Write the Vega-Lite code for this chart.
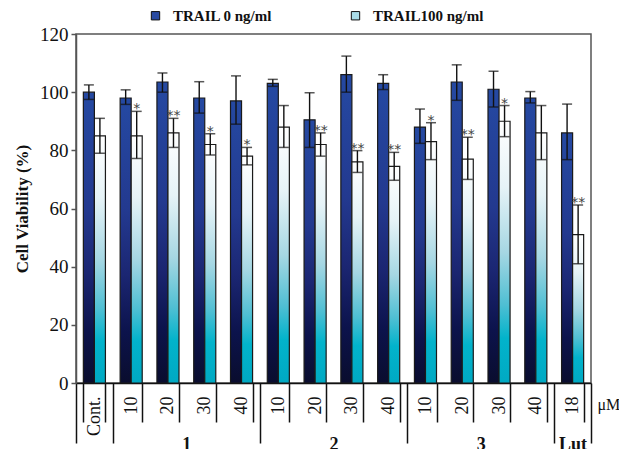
{
  "$schema": "https://vega.github.io/schema/vega-lite/v6.json",
  "width": 515,
  "height": 349,
  "autosize": "none",
  "padding": {"left": 76, "top": 34, "right": 28, "bottom": 66},
  "background": "white",
  "config": {
    "view": {"stroke": "#555", "strokeWidth": 1.5},
    "font": "Liberation Serif",
    "axis": {"labelFont": "Liberation Serif", "titleFont": "Liberation Serif", "labelColor": "#111", "titleColor": "#111"},
    "legend": {"labelFont": "Liberation Serif"}
  },
  "datasets": {
    "viability": [
      {"cat": "Cont.", "series": "TRAIL 0 ng/ml", "mean": 100, "lo": 97.5, "hi": 102.5, "sig": ""},
      {"cat": "Cont.", "series": "TRAIL100 ng/ml", "mean": 85, "lo": 79, "hi": 91, "sig": ""},
      {"cat": "1:10", "series": "TRAIL 0 ng/ml", "mean": 98, "lo": 95.8, "hi": 100.8, "sig": ""},
      {"cat": "1:10", "series": "TRAIL100 ng/ml", "mean": 85, "lo": 77.2, "hi": 93.4, "sig": "*"},
      {"cat": "1:20", "series": "TRAIL 0 ng/ml", "mean": 103.5, "lo": 100, "hi": 106.6, "sig": ""},
      {"cat": "1:20", "series": "TRAIL100 ng/ml", "mean": 86, "lo": 81, "hi": 91, "sig": "**"},
      {"cat": "1:30", "series": "TRAIL 0 ng/ml", "mean": 98, "lo": 92.8, "hi": 103.6, "sig": ""},
      {"cat": "1:30", "series": "TRAIL100 ng/ml", "mean": 82, "lo": 78.4, "hi": 85.7, "sig": "*"},
      {"cat": "1:40", "series": "TRAIL 0 ng/ml", "mean": 97, "lo": 89, "hi": 105.6, "sig": ""},
      {"cat": "1:40", "series": "TRAIL100 ng/ml", "mean": 78, "lo": 75, "hi": 81, "sig": "*"},
      {"cat": "2:10", "series": "TRAIL 0 ng/ml", "mean": 103, "lo": 102, "hi": 104.4, "sig": ""},
      {"cat": "2:10", "series": "TRAIL100 ng/ml", "mean": 88, "lo": 81, "hi": 95.4, "sig": ""},
      {"cat": "2:20", "series": "TRAIL 0 ng/ml", "mean": 90.5, "lo": 81, "hi": 99.8, "sig": ""},
      {"cat": "2:20", "series": "TRAIL100 ng/ml", "mean": 82, "lo": 78, "hi": 86, "sig": "**"},
      {"cat": "2:30", "series": "TRAIL 0 ng/ml", "mean": 106, "lo": 100, "hi": 112.4, "sig": ""},
      {"cat": "2:30", "series": "TRAIL100 ng/ml", "mean": 76, "lo": 72.4, "hi": 79.9, "sig": "**"},
      {"cat": "2:40", "series": "TRAIL 0 ng/ml", "mean": 103, "lo": 100.9, "hi": 106, "sig": ""},
      {"cat": "2:40", "series": "TRAIL100 ng/ml", "mean": 74.5, "lo": 69.7, "hi": 79.3, "sig": "**"},
      {"cat": "3:10", "series": "TRAIL 0 ng/ml", "mean": 88, "lo": 82.4, "hi": 94.2, "sig": ""},
      {"cat": "3:10", "series": "TRAIL100 ng/ml", "mean": 83, "lo": 76.8, "hi": 89.5, "sig": "*"},
      {"cat": "3:20", "series": "TRAIL 0 ng/ml", "mean": 103.5, "lo": 97.2, "hi": 109.4, "sig": ""},
      {"cat": "3:20", "series": "TRAIL100 ng/ml", "mean": 77, "lo": 70, "hi": 84.5, "sig": "**"},
      {"cat": "3:30", "series": "TRAIL 0 ng/ml", "mean": 101, "lo": 94.9, "hi": 107.2, "sig": ""},
      {"cat": "3:30", "series": "TRAIL100 ng/ml", "mean": 90, "lo": 84.7, "hi": 95.4, "sig": "*"},
      {"cat": "3:40", "series": "TRAIL 0 ng/ml", "mean": 98, "lo": 96.3, "hi": 100.2, "sig": ""},
      {"cat": "3:40", "series": "TRAIL100 ng/ml", "mean": 86, "lo": 76.8, "hi": 95.4, "sig": ""},
      {"cat": "Lut:18", "series": "TRAIL 0 ng/ml", "mean": 86, "lo": 76.8, "hi": 95.9, "sig": ""},
      {"cat": "Lut:18", "series": "TRAIL100 ng/ml", "mean": 51, "lo": 41, "hi": 61.2, "sig": "**"}
    ],
    "groups": [
      {"grp": "Cont.", "from": 0, "to": 1},
      {"grp": "1", "from": 1, "to": 5},
      {"grp": "2", "from": 5, "to": 9},
      {"grp": "3", "from": 9, "to": 13},
      {"grp": "Lut", "from": 13, "to": 14}
    ]
  },
  "layer": [
    {
      "data": {"name": "viability"},
      "encoding": {
        "x": {
          "field": "cat", "type": "nominal", "sort": null,
          "scale": {"paddingInner": 0.4, "paddingOuter": 0.2},
          "axis": {
            "orient": "bottom",
            "labelExpr": "isString(datum.value) ? peek(split(datum.value, ':')) : ''",
            "labelAngle": -90,
            "labelFontSize": 18,
            "labelPadding": -26,
            "tickBand": "extent",
            "tickSize": 39,
            "tickWidth": 1.5,
            "tickColor": "#111",
            "domainColor": "#111",
            "domainWidth": 1.5,
            "grid": false,
            "title": null
          }
        },
        "xOffset": {"field": "series", "type": "nominal", "scale": {"domain": ["TRAIL 0 ng/ml", "TRAIL100 ng/ml"]}}
      },
      "layer": [
        {
          "transform": [{"filter": "datum.series == 'TRAIL 0 ng/ml'"}],
          "mark": {
            "type": "bar", "stroke": "#1a1a1a", "strokeWidth": 1.2,
            "fill": {"gradient": "linear", "x1": 0, "y1": 0, "x2": 0, "y2": 1,
              "stops": [
                {"offset": 0, "color": "#2549a2"},
                {"offset": 0.4, "color": "#23398f"},
                {"offset": 0.62, "color": "#1b2672"},
                {"offset": 0.82, "color": "#0c134c"},
                {"offset": 1, "color": "#0a0d2e"}
              ]}
          },
          "encoding": {
            "y": {"field": "mean", "type": "quantitative",
              "scale": {"domain": [0, 120], "nice": false},
              "axis": {
                "values": [0, 20, 40, 60, 80, 100, 120],
                "labelFontSize": 19, "labelPadding": 3,
                "tickSize": 5, "tickColor": "#555", "tickWidth": 1.5,
                "domainColor": "#555", "domainWidth": 1.5,
                "grid": false,
                "title": "Cell Viability (%)",
                "titleFontSize": 17, "titleFontWeight": "bold", "titlePadding": 8
              }
            }
          }
        },
        {
          "transform": [{"filter": "datum.series == 'TRAIL100 ng/ml'"}],
          "mark": {
            "type": "bar", "stroke": "#1a1a1a", "strokeWidth": 1.2,
            "fill": {"gradient": "linear", "x1": 0, "y1": 0, "x2": 0, "y2": 1,
              "stops": [
                {"offset": 0, "color": "#ffffff"},
                {"offset": 0.25, "color": "#e6f3f7"},
                {"offset": 0.5, "color": "#a6d7e3"},
                {"offset": 0.7, "color": "#4fbfd3"},
                {"offset": 0.83, "color": "#02b3cb"},
                {"offset": 1, "color": "#00a9c3"}
              ]}
          },
          "encoding": {
            "y": {"field": "mean", "type": "quantitative"}
          }
        },
        {
          "mark": {"type": "rule", "color": "#111", "strokeWidth": 1.4},
          "encoding": {
            "y": {"field": "lo", "type": "quantitative"},
            "y2": {"field": "hi"}
          }
        },
        {
          "mark": {"type": "tick", "color": "#111", "size": 10, "thickness": 1.5},
          "encoding": {"y": {"field": "hi", "type": "quantitative"}}
        },
        {
          "mark": {"type": "tick", "color": "#111", "size": 10, "thickness": 1.5},
          "encoding": {"y": {"field": "lo", "type": "quantitative"}}
        },
        {
          "transform": [{"filter": "datum.sig != ''"}],
          "mark": {"type": "text", "font": "DejaVu Sans", "fontSize": 14, "color": "#444", "baseline": "alphabetic", "dy": 2},
          "encoding": {
            "y": {"field": "hi", "type": "quantitative"},
            "text": {"field": "sig"}
          }
        },
        {
          "mark": {"type": "point", "shape": "square", "filled": true, "opacity": 0},
          "encoding": {
            "y": {"field": "mean", "type": "quantitative"},
            "fill": {
              "field": "series", "type": "nominal",
              "scale": {"domain": ["TRAIL 0 ng/ml", "TRAIL100 ng/ml"], "range": ["#2a4ba2", "#aadde9"]},
              "legend": {
                "title": null, "orient": "none", "direction": "horizontal",
                "legendX": 72, "legendY": -26,
                "symbolType": "square", "symbolSize": 70, "symbolOpacity": 1,
                "symbolStrokeColor": "#111", "symbolStrokeWidth": 1,
                "labelFontSize": 15, "labelFontWeight": "bold", "labelColor": "#111",
                "labelOffset": 10, "columnPadding": 75
              }
            }
          }
        }
      ]
    },
    {
      "data": {"name": "groups"},
      "mark": {"type": "point", "opacity": 0},
      "encoding": {
        "x": {
          "field": "from", "type": "quantitative",
          "scale": {"domain": [0, 14], "nice": false, "zero": false},
          "axis": {
            "orient": "bottom",
            "values": [0, 1, 5, 9, 13, 14],
            "tickSize": 60, "tickWidth": 1.5, "tickColor": "#111",
            "labelExpr": "datum.value == 14 ? 'μM' : ''",
            "labelAngle": 0, "labelAlign": "left", "labelBaseline": "middle",
            "labelPadding": -39, "labelOffset": 6, "labelFontSize": 16,
            "labelOverlap": false, "labelBound": false, "labelFlush": false,
            "domain": false, "grid": false, "title": null
          }
        }
      }
    },
    {
      "data": {"name": "groups"},
      "mark": {"type": "point", "opacity": 0},
      "encoding": {
        "x": {
          "field": "to", "type": "quantitative",
          "scale": {"domain": [0, 14], "nice": false, "zero": false},
          "axis": {
            "orient": "bottom",
            "values": [3, 7, 11, 13.5],
            "labelExpr": "datum.value == 3 ? '1' : datum.value == 7 ? '2' : datum.value == 11 ? '3' : 'Lut'",
            "labelAngle": 0, "labelAlign": "center", "labelBaseline": "top",
            "labelPadding": 52, "labelFontSize": 18, "labelFontWeight": "bold",
            "labelOverlap": false, "labelBound": false, "labelFlush": false,
            "ticks": false, "domain": false, "grid": false, "title": null
          }
        }
      }
    }
  ],
  "resolve": {"scale": {"x": "independent"}}
}
